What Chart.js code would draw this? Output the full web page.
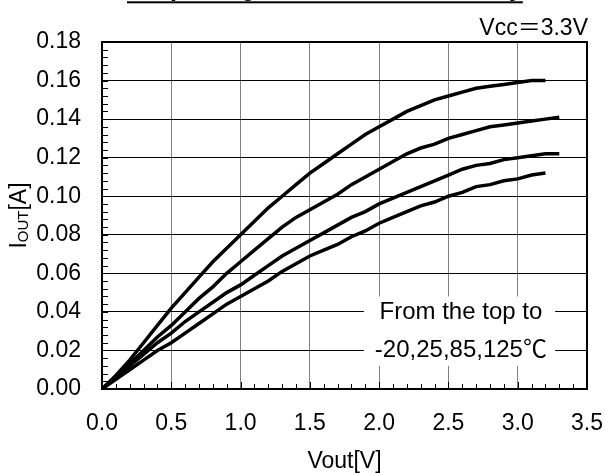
<!DOCTYPE html>
<html>
<head>
<meta charset="utf-8">
<script src="https://cdn.jsdelivr.net/npm/chart.js@4.4.1/dist/chart.umd.min.js"></script>
<style>
  html, body { margin: 0; padding: 0; background: #fff; }
</style>
</head>
<body>
<canvas id="ioutChart" width="605" height="473"></canvas>
<script>
// Vout[V] sample points
const vout = [0.0, 0.1, 0.2, 0.3, 0.4, 0.5, 0.6, 0.7, 0.8, 0.9, 1.0, 1.1, 1.2, 1.3, 1.4, 1.5, 1.6,
  1.7, 1.8, 1.9, 2.0, 2.1, 2.2, 2.3, 2.4, 2.5, 2.6, 2.7, 2.8, 2.9, 3.0, 3.1, 3.2, 3.3];
// IOUT[A] per temperature (from the top: -20, 25, 85, 125 degC)
const iout_m20 = [0, 0.007, 0.015, 0.024, 0.033, 0.042, 0.050, 0.058, 0.066, 0.073, 0.080, 0.087, 0.094,
  0.100, 0.106, 0.112, 0.117, 0.122, 0.127, 0.132, 0.136, 0.140, 0.144, 0.147, 0.150, 0.152, 0.154,
  0.156, 0.157, 0.158, 0.159, 0.160, 0.160, null];
const iout_25 = [0, 0.006, 0.013, 0.020, 0.027, 0.033, 0.040, 0.047, 0.053, 0.060, 0.066, 0.072, 0.078,
  0.084, 0.089, 0.093, 0.097, 0.101, 0.106, 0.110, 0.114, 0.118, 0.122, 0.125, 0.127, 0.130, 0.132,
  0.134, 0.136, 0.137, 0.138, 0.139, 0.140, 0.141];
const iout_85 = [0, 0.006, 0.012, 0.018, 0.024, 0.029, 0.035, 0.040, 0.045, 0.050, 0.054, 0.059, 0.064,
  0.069, 0.073, 0.077, 0.081, 0.085, 0.089, 0.092, 0.096, 0.099, 0.102, 0.105, 0.108, 0.111, 0.114,
  0.116, 0.117, 0.119, 0.120, 0.121, 0.122, 0.122];
const iout_125 = [0, 0.005, 0.010, 0.015, 0.020, 0.024, 0.029, 0.034, 0.039, 0.044, 0.048, 0.052, 0.056,
  0.061, 0.065, 0.069, 0.072, 0.075, 0.079, 0.082, 0.086, 0.089, 0.092, 0.095, 0.097, 0.100, 0.102,
  0.105, 0.106, 0.108, 0.109, 0.111, 0.112, null];

const FONT = "'Liberation Sans', Arial, 'Noto Sans CJK JP', sans-serif";
Chart.defaults.font.family = FONT;
Chart.defaults.color = '#000';

function toPoints(ys) {
  const pts = [];
  ys.forEach((v, i) => { if (v !== null) pts.push({ x: vout[i], y: v }); });
  return pts;
}

function curve(label, ys) {
  return {
    label: label,
    data: toPoints(ys),
    showLine: true,
    borderColor: '#000',
    borderWidth: 3.5,
    pointRadius: 0,
    tension: 0
  };
}

// minor tick marks on the inner side of the axes + white note box
const decorations = {
  id: 'decorations',
  beforeDatasetsDraw(chart) {
    const { ctx, chartArea: a, scales: { x, y } } = chart;
    ctx.save();
    // note box hides grid lines behind the text
    const bx1 = x.getPixelForValue(1.89), bx2 = x.getPixelForValue(3.27);
    const by1 = y.getPixelForValue(0.048), by2 = y.getPixelForValue(0.012);
    ctx.fillStyle = '#fff';
    ctx.fillRect(bx1, by1, bx2 - bx1, by2 - by1);

    ctx.strokeStyle = '#000';
    ctx.lineWidth = 1;
    ctx.beginPath();
    for (let i = 0; i <= 35; i++) {
      const px = Math.round(x.getPixelForValue(i / 10)) + 0.5;
      ctx.moveTo(px, a.bottom);
      ctx.lineTo(px, a.bottom - (i % 5 === 0 ? 7 : 5));
    }
    for (let j = 0; j <= 45; j++) {
      const py = Math.round(y.getPixelForValue(j * 0.004)) + 0.5;
      ctx.moveTo(a.left, py);
      ctx.lineTo(a.left + 6, py);
    }
    ctx.stroke();

    ctx.font = '24px ' + FONT;
    ctx.fillStyle = '#000';
    ctx.textAlign = 'center';
    ctx.textBaseline = 'middle';
    const tx = x.getPixelForValue(2.59);
    ctx.fillText('From the top to', tx, y.getPixelForValue(0.04));
    ctx.fillText('-20,25,85,125℃', tx, y.getPixelForValue(0.02));
    ctx.restore();
  },
  afterDatasetsDraw(chart) {
    const { ctx, chartArea: a } = chart;
    ctx.save();
    ctx.strokeStyle = '#000';
    ctx.lineWidth = 2;
    ctx.strokeRect(a.left, a.top, a.right - a.left, a.bottom - a.top);
    ctx.restore();
  },
  afterDraw(chart) {
    const { ctx, chartArea: a } = chart;
    ctx.save();
    ctx.fillStyle = '#000';
    // title (mostly cut off at the top edge), underlined
    ctx.font = 'bold 25px ' + FONT;
    ctx.textAlign = 'left';
    ctx.textBaseline = 'alphabetic';
    const title = 'Output High Level Current Ability';
    const tw = ctx.measureText(title).width;
    ctx.fillText(title, 127, -4);
    ctx.fillRect(127, 1.3, tw, 2);

    // supply condition
    ctx.font = '23px ' + FONT;
    ctx.textAlign = 'right';
    ctx.fillText('Vcc＝3.3V', a.right + 1, 35);

    // y axis title with subscript
    ctx.translate(26, (a.top + a.bottom) / 2);
    ctx.rotate(-Math.PI / 2);
    const big = '23px ' + FONT, small = '15px ' + FONT;
    ctx.textAlign = 'left';
    ctx.font = big; const w1 = ctx.measureText('I').width;
    ctx.font = small; const w2 = ctx.measureText('OUT').width;
    ctx.font = big; const w3 = ctx.measureText('[A]').width;
    let sx = -(w1 + w2 + w3) / 2;
    ctx.font = big; ctx.fillText('I', sx, 0); sx += w1;
    ctx.font = small; ctx.fillText('OUT', sx, 2); sx += w2;
    ctx.font = big; ctx.fillText('[A]', sx, 0);
    ctx.restore();
  }
};

const ctx = document.getElementById('ioutChart').getContext('2d');
const ioutChart = new Chart(ctx, {
  type: 'scatter',
  data: {
    datasets: [
      curve('-20℃', iout_m20),
      curve('25℃', iout_25),
      curve('85℃', iout_85),
      curve('125℃', iout_125)
    ]
  },
  options: {
    responsive: false,
    animation: false,
    layout: { padding: { top: 42, right: 0, left: 0, bottom: 0 } },
    plugins: {
      legend: { display: false },
      tooltip: { enabled: false }
    },
    scales: {
      x: {
        type: 'linear',
        min: 0,
        max: 3.5,
        afterFit: (scale) => {
          scale.height = 84;
          scale.paddingLeft = 0;
          scale.paddingRight = 18;
        },
        ticks: {
          stepSize: 0.5,
          padding: 21,
          font: { size: 23 },
          callback: (v) => v.toFixed(1)
        },
        grid: { color: '#808080', lineWidth: 1, drawTicks: false },
        border: { display: true, color: '#000', width: 2 },
        title: {
          display: true,
          text: 'Vout[V]',
          font: { size: 23, lineHeight: 1 },
          padding: { top: 0, bottom: 0 }
        }
      },
      y: {
        min: 0,
        max: 0.18,
        afterFit: (scale) => { scale.width = 102; },
        ticks: {
          stepSize: 0.02,
          padding: 21,
          font: { size: 23 },
          callback: (v) => v.toFixed(2)
        },
        grid: { color: '#000', lineWidth: 1, drawTicks: false },
        border: { display: true, color: '#000', width: 2 }
      }
    }
  },
  plugins: [decorations]
});
</script>
</body>
</html>
